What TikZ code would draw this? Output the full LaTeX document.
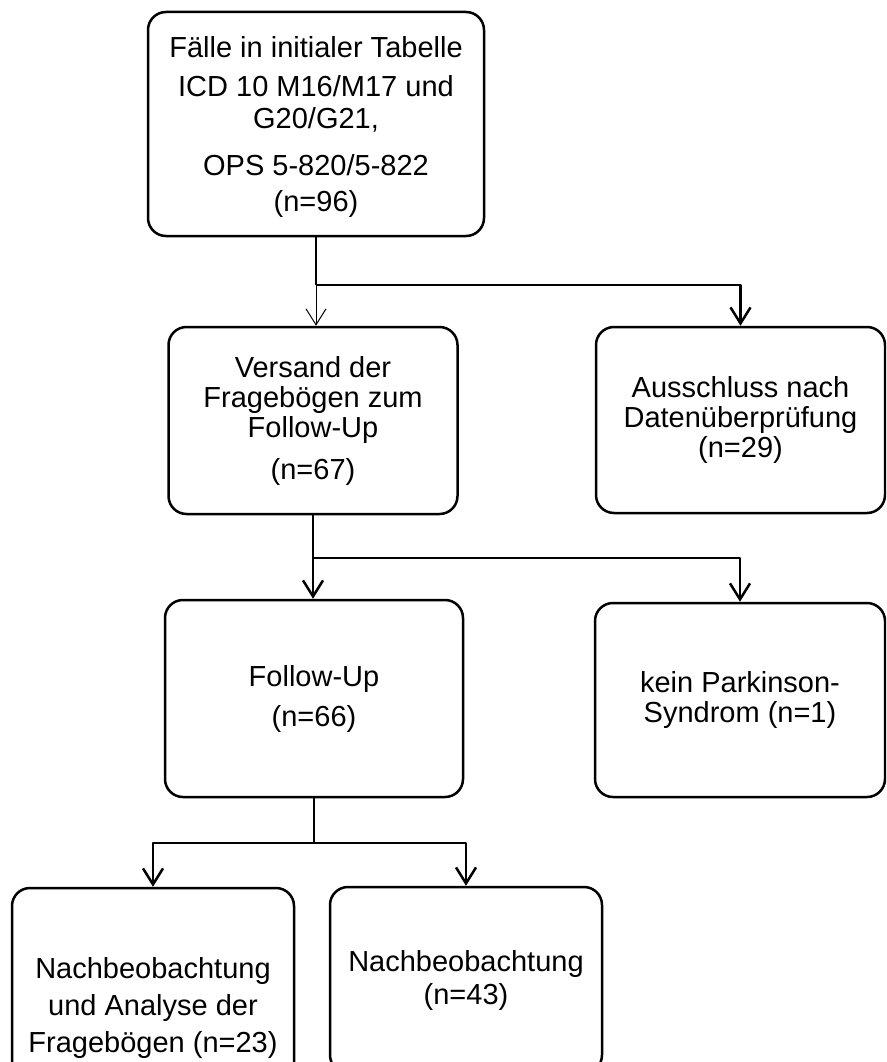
\documentclass[tikz,border=0pt]{standalone}
\usepackage{fontspec}
\setmainfont{Liberation Sans}
\usetikzlibrary{arrows.meta}

\begin{document}
\begin{tikzpicture}[x=1pt, y=-1pt, line join=round,
  box/.style={draw, line width=2.5pt, rounded corners=18pt, align=center, inner sep=0pt, font=\fontsize{29}{30}\selectfont},
  link/.style={line width=2.5pt},
  fine/.style={line width=1pt},
  tip/.style={-{Straight Barb[length=16pt, width=20pt]}}]
  \path[use as bounding box, clip] (0,0) rectangle (886,1062);
  \node[box, minimum width=336pt, minimum height=224pt, text depth=0pt] (cases) at (316,124)
    {Fälle in initialer Tabelle\\[9pt] ICD 10 M16/M17 und\\[2pt] G20/G21,\\[17pt] OPS 5-820/5-822\\[6pt] (n=96)};
  \node[box, minimum width=289pt, minimum height=187pt] (mail) at (313,420.5)
    {Versand der\\ Fragebögen zum\\ Follow-Up\\[12pt] (n=67)};
  \node[box, minimum width=289pt, minimum height=186pt] (excl) at (740.5,420)
    {Ausschluss nach\\ Datenüberprüfung\\ (n=29)};
  \node[box, minimum width=298pt, minimum height=197pt] (follow) at (314,698.5)
    {Follow-Up\\[10pt] (n=66)};
  \node[box, minimum width=290pt, minimum height=194pt] (nopd) at (740,700)
    {kein Parkinson-\\ Syndrom (n=1)};
  \node[box, minimum width=282pt, minimum height=240pt] (fullobs) at (153,1008)
    {Nachbeobachtung\\[7pt] und Analyse der\\[7pt] Fragebögen (n=23)};
  \node[box, minimum width=272pt, minimum height=186pt] (obs) at (466,980)
    {Nachbeobachtung\\[3pt] (n=43)};
  \coordinate (s1) at (316,285);
  \coordinate (s2) at (313,558);
  \coordinate (s3) at (314,843);
  \draw[link] (cases.south) -- (s1);
  \draw[fine, tip] (s1) -- (s1 |- mail.north);
  \draw[link, tip] (s1) -| (excl.north);
  \draw[link] (mail.south) -- (s2);
  \draw[link, tip] (s2) -- (s2 |- follow.north);
  \draw[link, tip] (s2) -| (nopd.north);
  \draw[link] (follow.south) -- (s3);
  \draw[link, tip] (s3) -| (fullobs.north);
  \draw[link, tip] (s3) -| (obs.north);
\end{tikzpicture}
\end{document}
